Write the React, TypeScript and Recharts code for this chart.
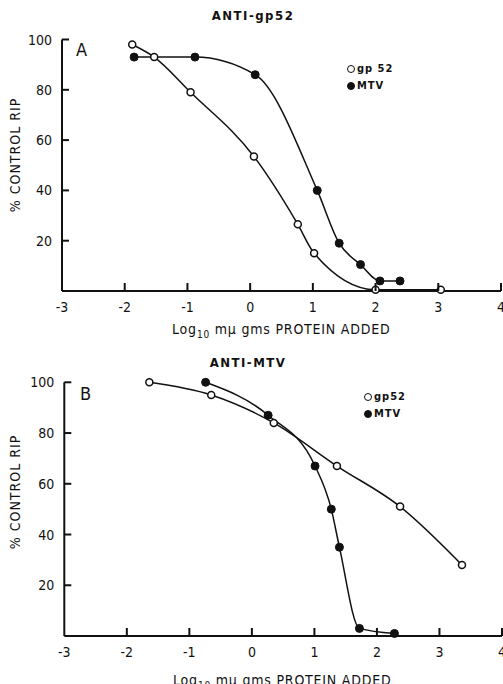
import React from 'react';
import { LineChart, Line, XAxis, YAxis } from 'recharts';

const xTicks = [-3, -2, -1, 0, 1, 2, 3, 4];
const yTicks = [20, 40, 60, 80, 100];

// panel A: ANTI-gp52
const aGp52X = [-1.88, -1.53, -0.95, 0.06, 0.76, 1.02, 2.0, 3.04];
const aGp52Y = [98, 93, 79, 53.5, 26.5, 15, 0.5, 0.5];
const aMtvX = [-1.85, -0.88, 0.08, 1.07, 1.42, 1.76, 2.07, 2.39];
const aMtvY = [93, 93, 86, 40, 19, 10.5, 4, 4];

// panel B: ANTI-MTV
const bGp52X = [-1.64, -0.65, 0.35, 1.36, 2.37, 3.36];
const bGp52Y = [100, 95, 84, 67, 51, 28];
const bMtvX = [-0.74, 0.26, 1.01, 1.27, 1.4, 1.72, 2.28];
const bMtvY = [100, 87, 67, 50, 35, 3, 1];

const zip = (xs: number[], ys: number[]) => xs.map((x, i) => ({ x, y: ys[i] }));

const FONT = '"DejaVu Sans Condensed", "DejaVu Sans", sans-serif';
const INK = '#111';

const XTick = (props: any) => {
  const { x, y, payload } = props;
  return (
    <g>
      {payload.value !== -3 && (
        <line x1={x} y1={y} x2={x} y2={y - 8} stroke={INK} strokeWidth={2} />
      )}
      <text x={x} y={y + 21} textAnchor="middle" fontSize={14} fontFamily={FONT} fill={INK}>
        {payload.value}
      </text>
    </g>
  );
};

const YTick = (props: any) => {
  const { x, y, payload } = props;
  return (
    <g>
      <line x1={x} y1={y} x2={x + 7} y2={y} stroke={INK} strokeWidth={2} />
      <text x={x - 10} y={y} dy="0.36em" textAnchor="end" fontSize={14} fontFamily={FONT} fill={INK}>
        {payload.value}
      </text>
    </g>
  );
};

const openDot = { r: 3.5, fill: '#fff', stroke: INK, strokeWidth: 1.5 };
const fullDot = { r: 4, fill: INK, stroke: INK, strokeWidth: 1 };

function Panel({ top, height, marginTop, yWidth, xHeight, right, gp52, mtv }: any) {
  return (
    <div style={{ position: 'absolute', left: 0, top }}>
      <LineChart width={503} height={height} margin={{ top: marginTop, right, left: 0, bottom: 0 }}>
        <XAxis
          type="number"
          dataKey="x"
          domain={[-3, 4]}
          ticks={xTicks}
          interval={0}
          height={xHeight}
          tickSize={0}
          tickMargin={0}
          tick={<XTick />}
          tickLine={false}
          axisLine={{ stroke: INK, strokeWidth: 2 }}
        />
        <YAxis
          type="number"
          dataKey="y"
          domain={[0, 100]}
          ticks={yTicks}
          interval={0}
          width={yWidth}
          tickSize={0}
          tickMargin={0}
          tick={<YTick />}
          tickLine={false}
          axisLine={{ stroke: INK, strokeWidth: 2 }}
        />
        <Line data={gp52} dataKey="y" type="monotone" stroke={INK} strokeWidth={1.5}
          dot={openDot} activeDot={false} isAnimationActive={false} />
        <Line data={mtv} dataKey="y" type="monotone" stroke={INK} strokeWidth={1.5}
          dot={fullDot} activeDot={false} isAnimationActive={false} />
      </LineChart>
    </div>
  );
}

const text = (extra: React.CSSProperties): React.CSSProperties => ({
  position: 'absolute',
  fontFamily: FONT,
  color: INK,
  whiteSpace: 'nowrap',
  lineHeight: 1,
  ...extra,
});

function XLabel({ top, left }: { top: number; left: number }) {
  return (
    <div style={text({ top, left, fontSize: 14, letterSpacing: 0.8 })}>
      Log<sub style={{ fontSize: 10 }}>10</sub> mμ gms PROTEIN ADDED
    </div>
  );
}

function YLabel({ cy }: { cy: number }) {
  return (
    <div
      style={text({
        top: cy,
        left: 15,
        fontSize: 14,
        letterSpacing: 1,
        transform: 'translate(-50%, -50%) rotate(-90deg)',
      })}
    >
      % CONTROL RIP
    </div>
  );
}

function LegendBox({ top, left, gap, label }: any) {
  const dot = (filled: boolean) => (
    <span
      style={{
        display: 'inline-block',
        width: 6,
        height: 6,
        borderRadius: '50%',
        border: `1.5px solid ${INK}`,
        background: filled ? INK : '#fff',
        marginRight: 2,
        verticalAlign: 'middle',
      }}
    />
  );
  return (
    <div style={text({ top, left, fontSize: 11, fontWeight: 'bold', letterSpacing: 1 })}>
      <div>{dot(false)}{label}</div>
      <div style={{ marginTop: gap }}>{dot(true)}MTV</div>
    </div>
  );
}

export default function App() {
  return (
    <div style={{ position: 'absolute', left: 0, top: 0, width: 503, height: 684, background: '#fff', overflow: 'hidden' }}>
      <Panel top={0} height={340} marginTop={39.5} yWidth={62} xHeight={49} right={2}
        gp52={zip(aGp52X, aGp52Y)} mtv={zip(aMtvX, aMtvY)} />
      <Panel top={340} height={344} marginTop={42.3} yWidth={64.3} xHeight={48} right={1}
        gp52={zip(bGp52X, bGp52Y)} mtv={zip(bMtvX, bMtvY)} />

      <div style={text({ top: 9, left: 253, transform: 'translateX(-50%)', fontSize: 13, fontWeight: 'bold', letterSpacing: 1.5 })}>
        ANTI-gp52
      </div>
      <div style={text({ top: 41, left: 76, fontSize: 18 })}>A</div>
      <LegendBox top={63} left={347} gap={6} label="gp 52" />
      <XLabel top={322} left={172} />
      <YLabel cy={155} />

      <div style={text({ top: 356, left: 248, transform: 'translateX(-50%)', fontSize: 13, fontWeight: 'bold', letterSpacing: 1.5 })}>
        ANTI-MTV
      </div>
      <div style={text({ top: 385, left: 80, fontSize: 18 })}>B</div>
      <LegendBox top={391} left={364} gap={6} label="gp52" />
      <XLabel top={673} left={173} />
      <YLabel cy={492} />
    </div>
  );
}
